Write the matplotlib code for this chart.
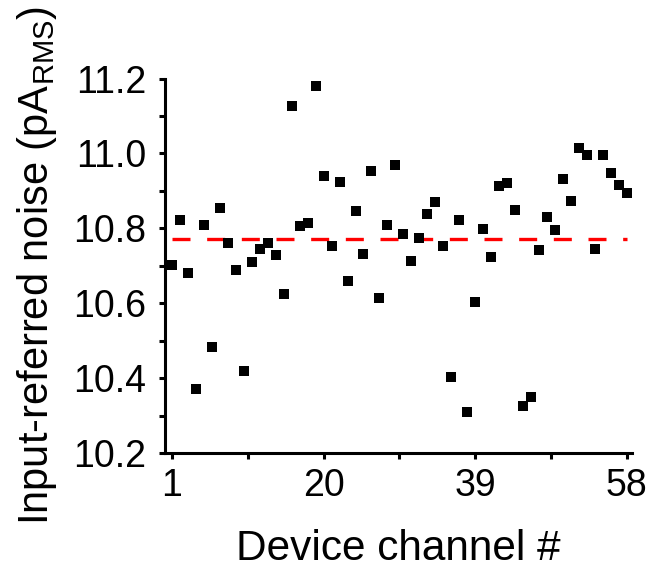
import matplotlib
matplotlib.use("Agg")
import matplotlib.pyplot as plt
from matplotlib.ticker import MultipleLocator, FixedLocator

plt.rcParams['font.family'] = ['Liberation Sans', 'DejaVu Sans']

channels = list(range(1, 59))
noise = [10.701, 10.823, 10.681, 10.371, 10.808, 10.483, 10.855, 10.761, 10.688, 10.418,
         10.709, 10.745, 10.761, 10.729, 10.624, 11.126, 10.806, 10.815, 11.180, 10.939,
         10.753, 10.924, 10.659, 10.847, 10.731, 10.952, 10.613, 10.809, 10.970, 10.786,
         10.713, 10.775, 10.838, 10.869, 10.752, 10.404, 10.822, 10.309, 10.604, 10.799,
         10.723, 10.914, 10.920, 10.848, 10.325, 10.350, 10.741, 10.831, 10.796, 10.932,
         10.873, 11.014, 10.997, 10.744, 10.996, 10.947, 10.915, 10.895]
mean_noise = 10.771
x_ticks = [1, 20, 39, 58]
x_minor = [10.5, 29.5, 48.5]
y_ticks = [10.2, 10.4, 10.6, 10.8, 11.0, 11.2]

fig = plt.figure(figsize=(6.52, 5.69), dpi=100)
ax = fig.add_axes([0.2526, 0.2039, 0.7164, 0.6581])

ax.plot([channels[0], channels[-1]], [mean_noise, mean_noise], color='#ff0000',
        lw=2.4, dashes=(5.4, 5.0), zorder=1)
ax.plot(channels, noise, linestyle='none', marker='s', markersize=7.2,
        color='black', markeredgewidth=0, zorder=2)

ax.set_xlim(0.08, 58.63)
ax.set_ylim(10.2, 11.2)
ax.xaxis.set_major_locator(FixedLocator(x_ticks))
ax.xaxis.set_minor_locator(FixedLocator(x_minor))
ax.yaxis.set_major_locator(FixedLocator(y_ticks))
ax.yaxis.set_minor_locator(MultipleLocator(0.1))
ax.set_yticklabels([f"{v:.1f}" for v in y_ticks])

for s in ['top', 'right']:
    ax.spines[s].set_visible(False)
for s in ['left', 'bottom']:
    ax.spines[s].set_linewidth(2.2)

ax.tick_params(which='both', direction='out', width=2.2, labelsize=27)
ax.tick_params(which='major', length=4.5)
ax.tick_params(which='minor', length=4.5)
ax.tick_params(axis='x', which='major', pad=6)
ax.tick_params(axis='y', which='major', pad=9)

ax.set_xlabel('Device channel #', fontsize=30.5, labelpad=18)
ax.set_ylabel(r'Input-referred noise (pA$_{\mathregular{RMS}}$)', fontsize=30, labelpad=10)

fig.savefig('out.png', dpi=100)
